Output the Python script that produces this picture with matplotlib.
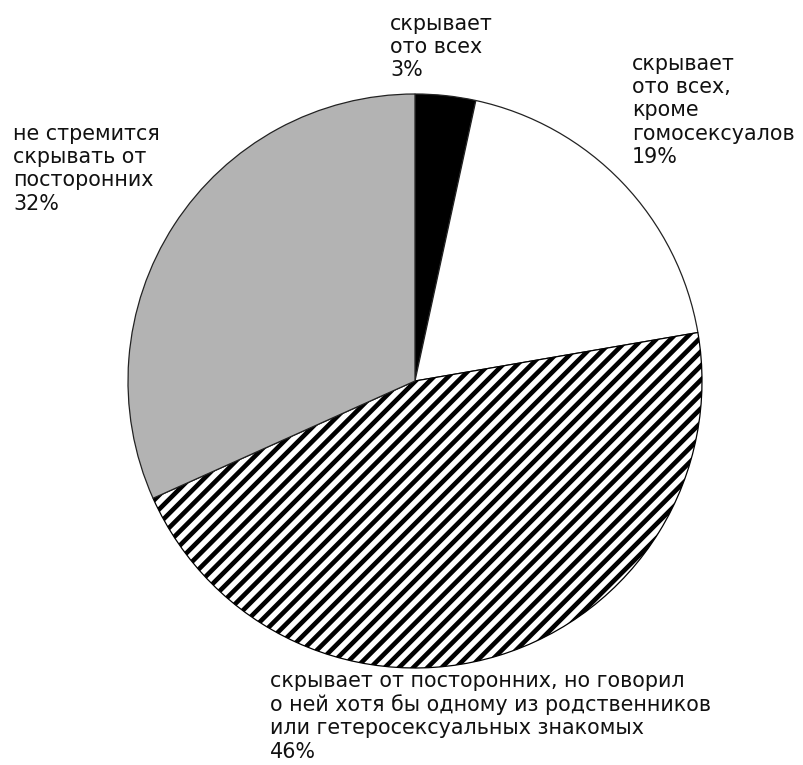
import matplotlib
matplotlib.use("Agg")
import matplotlib.pyplot as plt

plt.rcParams['font.family'] = ['DejaVu Sans']
plt.rcParams['hatch.linewidth'] = 2.6

categories = [
    "скрывает\nото всех",
    "скрывает\nото всех,\nкроме\nгомосексуалов",
    "скрывает от посторонних, но говорил\nо ней хотя бы одному из родственников\nили гетеросексуальных знакомых",
    "не стремится\nскрывать от\nпосторонних",
]
values = [3.4, 18.9, 46.0, 31.7]
pct_labels = ["3%", "19%", "46%", "32%"]

colors = ["black", "white", "white", "#b3b3b3"]
hatches = [None, None, "///", None]

DPI = 128
W, H = 803, 765
fig = plt.figure(figsize=(W / DPI, H / DPI), dpi=DPI)

cx, cy, r = 415, 381, 287
ax = fig.add_axes([(cx - r) / W, (H - cy - r) / H, 2 * r / W, 2 * r / H])
wedges, _ = ax.pie(values, colors=colors, startangle=90, counterclock=False,
                   radius=1.0,
                   wedgeprops=dict(edgecolor="#222222", linewidth=0.7))
for w, h in zip(wedges, hatches):
    if h:
        w.set_hatch(h)
        w.set_edgecolor("black")
ax.set_xlim(-1.0, 1.0)
ax.set_ylim(-1.0, 1.0)
ax.set_aspect("equal")
ax.axis("off")

# label positions (pixel, top-left)
label_pos = [(390, 14), (632, 54), (270, 671), (13, 124)]
for text, pct, (px, py) in zip(categories, pct_labels, label_pos):
    fig.text(px / W, 1 - py / H, text + "\n" + pct, ha="left", va="top",
             fontsize=11.6, color="#111111")

fig.savefig("out.png", dpi=DPI)
